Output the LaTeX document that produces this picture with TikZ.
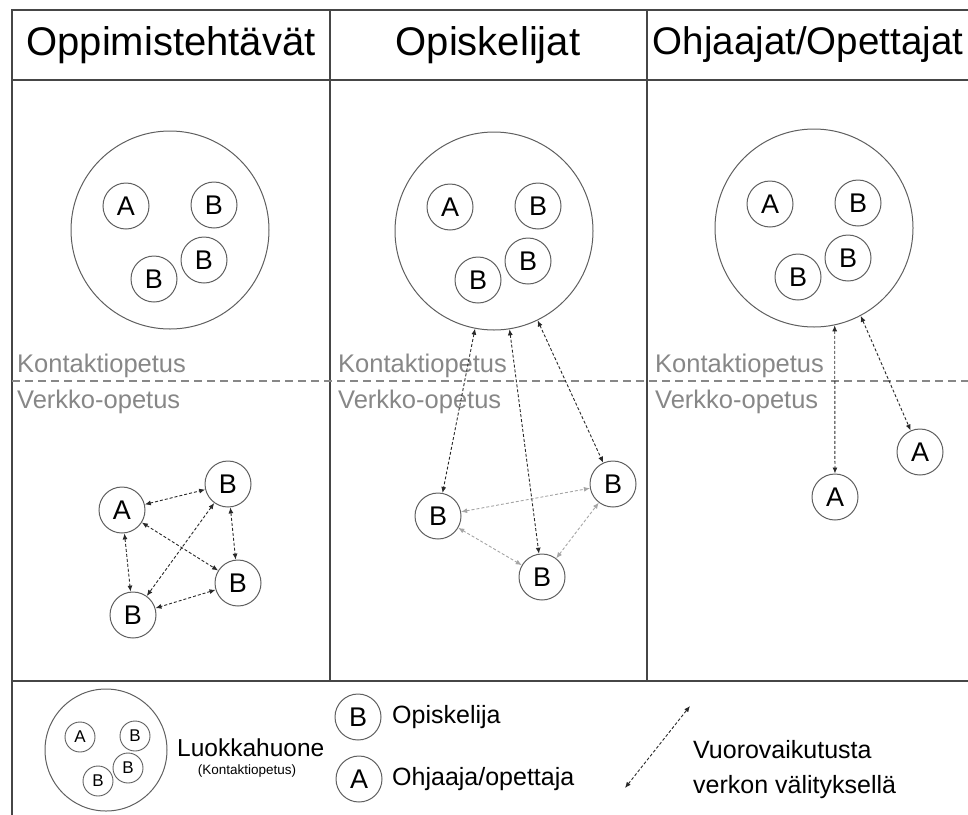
\documentclass[tikz,border=0pt]{standalone}
\usepackage{fontspec}
\setmainfont{Liberation Sans}
\usetikzlibrary{arrows.meta}
\definecolor{framec}{RGB}{70,70,70}
\definecolor{circc}{RGB}{95,95,95}
\definecolor{darkc}{RGB}{40,40,40}
\definecolor{lightc}{RGB}{165,165,165}
\definecolor{labelc}{RGB}{135,135,135}
\begin{document}
\begin{tikzpicture}[x=1pt,y=-1pt,
  pers/.style={circle,draw=circc,line width=1pt,minimum size=46pt,inner sep=0pt,font=\fontsize{27}{27}\selectfont},
  smallpers/.style={circle,draw=circc,line width=0.9pt,minimum size=30pt,inner sep=0pt,font=\fontsize{17}{17}\selectfont},
  room/.style={circle,draw=circc,line width=1pt,minimum size=198pt,inner sep=0pt},
  link/.style={draw=darkc,line width=0.9pt,dash pattern=on 3pt off 2pt,{Latex[length=6pt,width=5pt]}-{Latex[length=6pt,width=5pt]}},
  glink/.style={link,draw=lightc},
  head/.style={font=\fontsize{40}{40}\selectfont,inner sep=0pt},
  zone/.style={anchor=base west,text=labelc,font=\fontsize{25.5}{25.5}\selectfont,inner sep=0pt},
  legtext/.style={anchor=west,inner sep=0pt,font=\fontsize{25}{25}\selectfont}]
\useasboundingbox (0,0) rectangle (968,814);
% frame
\draw[framec,line width=1.2pt] (12,830) -- (12,10) -- (980,10);
\draw[framec,line width=1.2pt] (12,80) -- (980,80);
\draw[framec,line width=1.2pt] (12,681) -- (980,681);
\draw[framec,line width=1.2pt] (330,10) -- (330,681);
\draw[framec,line width=1.2pt] (647,10) -- (647,681);
\draw[labelc,line width=1.1pt,dash pattern=on 8pt off 5pt] (12,381) -- (980,381);
% headers
\node[head] (h1) at (171,45) {Oppimistehtävät};
\node[head] (h2) at (488,45) {Opiskelijat};
\node[head,font=\fontsize{38.5}{38.5}\selectfont] (h3) at (808,45) {Ohjaajat/Opettajat};
% zone labels
\foreach \x/\n in {17/1,338/2,655/3}{
  \node[zone] (k\n) at (\x,372) {Kontaktiopetus};
  \node[zone] (v\n) at (\x,408) {Verkko-opetus};
}
% rooms
\node[room] (r1) at (170,230) {};
\node[pers] (r1a) at (126,206) {A};
\node[pers] (r1b) at (214,205) {B};
\node[pers] (r1c) at (204,260) {B};
\node[pers] (r1d) at (154,279) {B};
\node[room] (r2) at (494,231) {};
\node[pers] (r2a) at (450,207) {A};
\node[pers] (r2b) at (538,206) {B};
\node[pers] (r2c) at (528,261) {B};
\node[pers] (r2d) at (478,280) {B};
\node[room] (r3) at (814,228) {};
\node[pers] (r3a) at (770,204) {A};
\node[pers] (r3b) at (858,203) {B};
\node[pers] (r3c) at (848,258) {B};
\node[pers] (r3d) at (798,277) {B};
% column 1 online
\node[pers] (o1a) at (122,510) {A};
\node[pers] (o1b) at (228,484) {B};
\node[pers] (o1c) at (238,583) {B};
\node[pers] (o1d) at (133,615) {B};
\draw[link] (o1a) -- (o1b);
\draw[link] (o1a) -- (o1c);
\draw[link] (o1a) -- (o1d);
\draw[link] (o1b) -- (o1c);
\draw[link] (o1b) -- (o1d);
\draw[link] (o1c) -- (o1d);
% column 2 online
\node[pers] (o2l) at (438,516) {B};
\node[pers] (o2r) at (613,484) {B};
\node[pers] (o2b) at (542,577) {B};
\draw[glink] (o2l) -- (o2r);
\draw[glink] (o2l) -- (o2b);
\draw[glink] (o2b) -- (o2r);
\draw[link] (r2.-101) -- (o2l);
\draw[link] (r2.-81.5) -- (o2b);
\draw[link] (r2.-64) -- (o2r);
% column 3 online
\node[pers] (o3a) at (835,497) {A};
\node[pers] (o3b) at (920,452) {A};
\draw[link] (r3.-78.7) -- (o3a);
\draw[link] (r3.-62.4) -- (o3b);
% legend
\node[room,minimum size=122pt] (lr) at (106,750) {};
\node[smallpers] (lra) at (80,737) {A};
\node[smallpers] (lrb) at (135,736) {B};
\node[smallpers] (lrc) at (128,768) {B};
\node[smallpers] (lrd) at (98,781) {B};
\node[legtext,font=\fontsize{24.5}{24.5}\selectfont] (lt1) at (177,748) {Luokkahuone};
\node[inner sep=0pt,font=\fontsize{13.5}{13.5}\selectfont] (lt2) at (247,771) {(Kontaktiopetus)};
\node[pers] (lb) at (358,717) {B};
\node[legtext] (lbt) at (392,717) {Opiskelija};
\node[pers] (la) at (359,779) {A};
\node[legtext] (lat) at (392,779) {Ohjaaja/opettaja};
\coordinate (lx1) at (690,706);
\coordinate (lx2) at (625,788);
\draw[link] (lx2) -- (lx1);
\node[legtext] (vt1) at (693,750) {Vuorovaikutusta};
\node[legtext] (vt2) at (693,787) {verkon välityksellä};
\end{tikzpicture}
\end{document}
